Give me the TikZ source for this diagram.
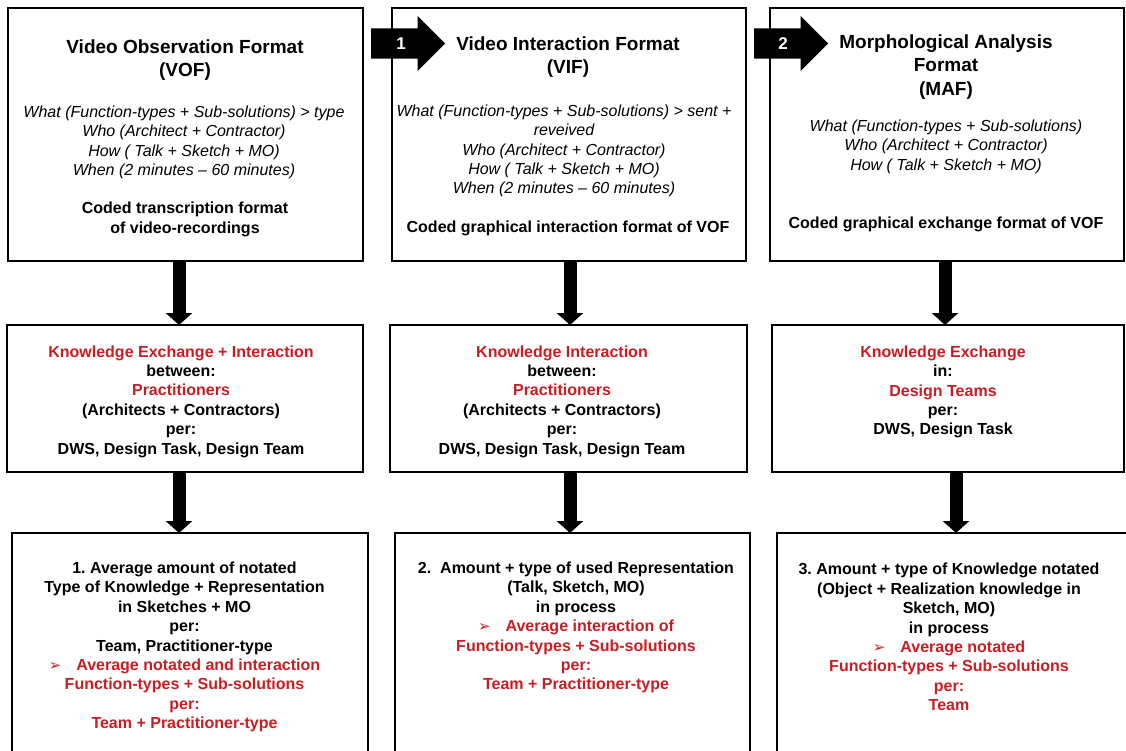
\documentclass[tikz,border=0pt]{standalone}
\usepackage{fontspec}
\setmainfont{Liberation Sans}
\newfontfamily\symfont{DejaVu Sans}
\usetikzlibrary{shapes.arrows,arrows.meta}
\definecolor{kred}{RGB}{200,30,35}
\newcommand{\kbul}{{\symfont\fontsize{15}{16}\selectfont ➢}\hspace{15pt}}
\tikzset{
 x=1pt, y=-1pt,
 box/.style={draw=black, line width=2.6pt, rectangle, inner sep=0pt, outer sep=0pt},
 ttl/.style={align=center, inner sep=0pt, font=\fontsize{19}{23.5}\selectfont\bfseries},
 itx/.style={align=center, inner sep=0pt, font=\fontsize{16}{19.4}\selectfont\itshape},
 btx/.style={align=center, inner sep=0pt, font=\fontsize{16}{19.4}\selectfont\bfseries},
 varrow/.style={line width=13pt, -{Triangle[width=26pt,length=12pt]}},
 harrow/.style={single arrow, fill=black, draw=none, minimum height=74pt,
   inner xsep=0pt, inner ysep=15pt, single arrow head extend=12.5pt, anchor=tail},
 numlbl/.style={text=white, font=\fontsize{17}{20}\selectfont\bfseries, inner sep=0pt}
}
\begin{document}
\frenchspacing
\begin{tikzpicture}
\useasboundingbox (0,0) rectangle (1126,751);
\fill[white] (0,0) rectangle (1126,751);
\clip (0,0) rectangle (1126,751);

% boxes
\node[box, minimum width=355pt, minimum height=253pt] (b1) at (185.5,134.5) {};
\node[box, minimum width=354pt, minimum height=253pt] (b2) at (569,134.5) {};
\node[box, minimum width=354pt, minimum height=253pt] (b3) at (947,134.5) {};
\node[box, minimum width=356pt, minimum height=147pt] (b4) at (185,398.5) {};
\node[box, minimum width=357pt, minimum height=147pt] (b5) at (568.5,398.5) {};
\node[box, minimum width=352pt, minimum height=147pt] (b6) at (948,398.5) {};
\node[box, minimum width=356pt, minimum height=237pt] (b7) at (190,651.5) {};
\node[box, minimum width=355pt, minimum height=237pt] (b8) at (572.5,651.5) {};
\node[box, minimum width=373pt, minimum height=237pt] (b9) at (963.5,651.5) {};

% column guides for the vertical arrows
\coordinate (c1) at (179,0);
\coordinate (c2) at (570,0);
\coordinate (c3a) at (945,0);
\coordinate (c3b) at (956,0);

\draw[varrow] (b1.south -| c1) -- (b4.north -| c1);
\draw[varrow] (b4.south -| c1) -- (b7.north -| c1);
\draw[varrow] (b2.south -| c2) -- (b5.north -| c2);
\draw[varrow] (b5.south -| c2) -- (b8.north -| c2);
\draw[varrow] (b3.south -| c3a) -- (b6.north -| c3a);
\draw[varrow] (b6.south -| c3b) -- (b9.north -| c3b);

% block arrows between top boxes
\node[harrow] (arr1) at (371,43.5) {};
\node[numlbl] (n1) at ([xshift=30pt]arr1.tail) {1};
\node[harrow] (arr2) at (754,43.5) {};
\node[numlbl] (n2) at ([xshift=29pt]arr2.tail) {2};

% top row texts
\node[ttl] (t1a) at (185,60) {Video Observation Format\\(VOF)};
\node[itx] (t1b) at (184,142.5) {What (Function-types + Sub-solutions) > type\\Who (Architect + Contractor)\\How ( Talk + Sketch + MO)\\When (2 minutes – 60 minutes)};
\node[btx] (t1c) at (185,219.5) {Coded transcription format\\of video-recordings};

\node[ttl] (t2a) at (568,57) {Video Interaction Format\\(VIF)};
\node[itx] (t2b) at (564,151) {What (Function-types + Sub-solutions) > sent +\\reveived\\Who (Architect + Contractor)\\How ( Talk + Sketch + MO)\\When (2 minutes – 60 minutes)};
\node[btx] (t2c) at (568,228.5) {Coded graphical interaction format of VOF};

\node[ttl] (t3a) at (946,67) {Morphological Analysis\\Format\\(MAF)};
\node[itx] (t3b) at (946,146.5) {What (Function-types + Sub-solutions)\\Who (Architect + Contractor)\\How ( Talk + Sketch + MO)};
\node[btx] (t3c) at (946,224.5) {Coded graphical exchange format of VOF};

% middle row texts
\node[btx] (t4) at (181,401.5) {{\color{kred}Knowledge Exchange + Interaction}\\between:\\{\color{kred}Practitioners}\\(Architects + Contractors)\\per:\\DWS, Design Task, Design Team};
\node[btx] (t5) at (562,401.5) {{\color{kred}Knowledge Interaction}\\between:\\{\color{kred}Practitioners}\\(Architects + Contractors)\\per:\\DWS, Design Task, Design Team};
\node[btx] (t6) at (943,392) {{\color{kred}Knowledge Exchange}\\in:\\{\color{kred}Design Teams}\\per:\\DWS, Design Task};

% bottom row texts
\node[btx] (t7) at (184.5,647) {1. Average amount of notated\\Type of Knowledge + Representation\\in Sketches + MO\\per:\\Team, Practitioner-type\\{\color{kred}\kbul Average notated and interaction}\\{\color{kred}Function-types + Sub-solutions}\\{\color{kred}per:}\\{\color{kred}Team + Practitioner-type}};
\node[btx] (t8) at (576,627.5) {2.\ \ Amount + type of used Representation\\(Talk, Sketch, MO)\\in process\\{\color{kred}\kbul Average interaction of}\\{\color{kred}Function-types + Sub-solutions}\\{\color{kred}per:}\\{\color{kred}Team + Practitioner-type}};
\node[btx] (t9) at (949,637) {3. Amount + type of Knowledge notated\\(Object + Realization knowledge in\\Sketch, MO)\\in process\\{\color{kred}\kbul Average notated}\\{\color{kred}Function-types + Sub-solutions}\\{\color{kred}per:}\\{\color{kred}Team}};
\end{tikzpicture}
\end{document}
